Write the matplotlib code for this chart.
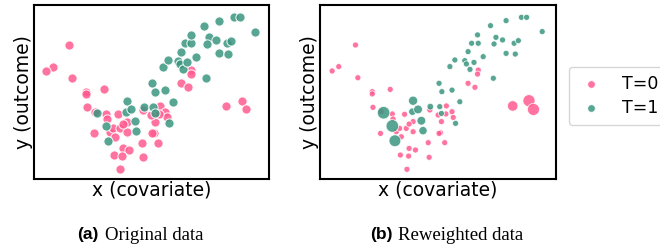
import numpy as np
import matplotlib
matplotlib.use("Agg")
import matplotlib.pyplot as plt

# control group (T=0)
x0 = [1.50, 0.79, 0.51, 1.60, 2.21, 2.21, 2.97, 2.24, 2.59, 3.06, 3.09, 3.58, 2.56, 3.23, 3.37,
      3.65, 3.94, 3.94, 3.77, 3.44, 3.77, 4.04, 3.40, 3.75, 4.62, 3.68, 4.58, 5.10, 5.04, 5.14,
      5.28, 4.65, 5.00, 5.35, 5.59, 5.64, 5.33, 6.27, 6.56, 6.70, 6.67, 8.16, 8.85, 9.04]
y0 = [7.70, 6.46, 6.21, 5.82, 5.02, 4.89, 5.15, 4.12, 3.87, 3.74, 3.45, 3.72, 2.62, 2.72, 2.91,
      2.91, 2.72, 3.30, 3.16, 2.43, 1.76, 1.67, 1.38, 1.32, 1.25, 0.56, 2.09, 2.66, 2.62, 3.30,
      2.09, 3.97, 3.68, 4.20, 3.87, 3.54, 3.74, 5.50, 5.27, 6.26, 6.03, 4.20, 4.50, 4.00]
w0 = [1, 1, 1, 1, 1, 1, 1, 1, 1, 1, 1, 1, 1, 1, 1,
      1, 1, 1, 1, 1, 1, 1, 1, 1, 1, 1, 1, 1, 1, 1,
      1, 1, 1, 1, 1, 1, 1, 1, 1, 1, 1, 3.0, 4.0, 4.0]

# treated group (T=1)
x1 = [2.69, 3.06, 3.17, 3.94, 3.91, 4.15, 4.29, 4.36, 4.67, 5.04, 5.16, 5.59, 5.92, 5.07, 5.14,
      5.74, 5.50, 5.71, 6.13, 6.20, 6.35, 6.52, 6.27, 6.42, 6.70, 6.67, 6.91, 7.22, 7.34, 7.45,
      7.37, 7.73, 7.88, 7.88, 8.27, 8.22, 8.40, 8.53, 8.75, 9.41]
y1 = [3.81, 3.05, 2.20, 4.50, 3.87, 4.00, 3.35, 2.78, 4.16, 5.50, 5.02, 5.11, 4.44, 4.16, 3.77,
      3.20, 6.46, 6.84, 6.80, 6.61, 6.30, 6.70, 7.32, 7.80, 7.80, 8.28, 7.03, 8.81, 5.79, 8.14,
      7.76, 7.99, 7.22, 9.10, 7.18, 7.80, 7.95, 9.29, 9.29, 8.47]
w1 = [4.3, 4.3, 3.8, 2.3, 1.5, 2.1, 2.1, 1.9, 1.2, 1, 1, 1, 1, 1, 1,
      1, 1, 1, 1, 1, 1, 1, 1, 1, 1, 1, 1, 1, 1, 1,
      1, 1, 1, 1, 1, 1, 1, 1, 1, 1]

c0 = "#ff5a8f"
c1 = "#3a957f"

fig = plt.figure(figsize=(6.6, 2.48), dpi=100)
ax1 = fig.add_axes([0.0515, 0.278, 0.356, 0.702])
ax2 = fig.add_axes([0.485, 0.278, 0.3576, 0.702])

# (a) original data
ax1.scatter(x0, y0, s=44, color=c0, alpha=0.85, edgecolor="white", linewidth=0.8, label="T=0")
ax1.scatter(x1, y1, s=44, color=c1, alpha=0.85, edgecolor="white", linewidth=0.8, label="T=1")

# (b) reweighted data
ax2.scatter(x0, y0, s=np.array(w0) * 19, color=c0, alpha=0.85, edgecolor="white", linewidth=0.6, label="T=0")
ax2.scatter(x1, y1, s=np.array(w1) * 19, color=c1, alpha=0.85, edgecolor="white", linewidth=0.6, label="T=1")

for ax in (ax1, ax2):
    ax.set_xlim(0, 10)
    ax.set_ylim(0, 10)
    ax.set_xticks([])
    ax.set_yticks([])
    for sp in ax.spines.values():
        sp.set_linewidth(1.5)
        sp.set_color("black")
    ax.set_xlabel("x (covariate)", fontsize=13.5, labelpad=1)
    ax.set_ylabel("y (outcome)", fontsize=13.5, labelpad=1)

leg = ax1.legend(handles=ax1.collections, labels=["T=0", "T=1"], loc="upper left",
                 bbox_to_anchor=(569 / 660, (248 - 67) / 248), bbox_transform=fig.transFigure,
                 fontsize=12.5, markerscale=0.85, frameon=True, borderpad=0.45, handletextpad=1.0,
                 handlelength=1.6, labelspacing=0.35, borderaxespad=0)
leg.get_frame().set_edgecolor("#cccccc")

# captions
cy = 13 / 248
fig.text(99 / 660, cy, "(a)", ha="right", va="center", fontsize=12.5,
         family="Liberation Sans", weight="bold")
fig.text(105 / 660, cy, "Original data", ha="left", va="center", fontsize=13.5,
         family="Liberation Serif")
fig.text(393 / 660, cy, "(b)", ha="right", va="center", fontsize=12.5,
         family="Liberation Sans", weight="bold")
fig.text(398 / 660, cy, "Reweighted data", ha="left", va="center", fontsize=13.5,
         family="Liberation Serif")

fig.savefig("out.png", dpi=100)
